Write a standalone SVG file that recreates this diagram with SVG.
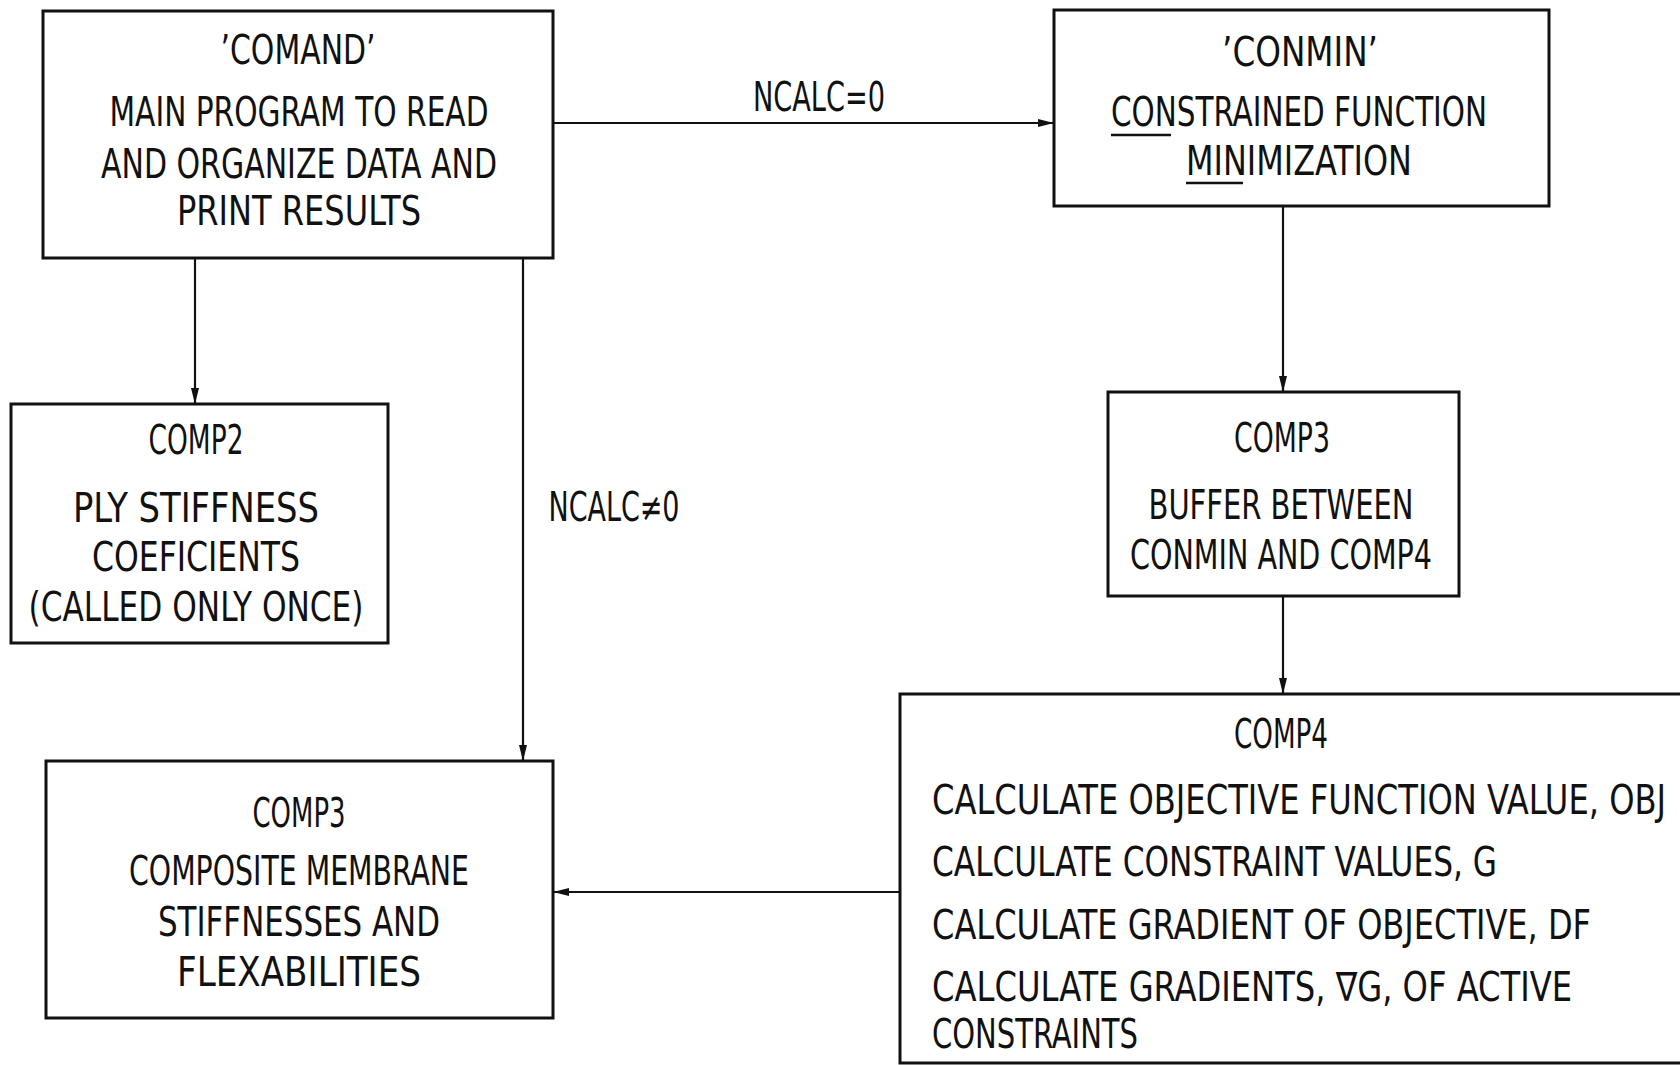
<svg xmlns="http://www.w3.org/2000/svg" width="1680" height="1065" viewBox="0 0 1680 1065">
<defs>
<marker id="ah" viewBox="0 0 16 10" refX="16" refY="5" markerWidth="16" markerHeight="10" markerUnits="userSpaceOnUse" orient="auto">
<path d="M0,1 L16,5 L0,9 Z" fill="#111"/>
</marker>
</defs>
<style>
.box{fill:#fff;stroke:#111;stroke-width:3}
.t{font-family:"DejaVu Sans Condensed","DejaVu Sans","Liberation Sans",sans-serif;font-size:40px;fill:#111;font-stretch:condensed}
.c{text-anchor:middle}
.ln{stroke:#111;stroke-width:2.2;fill:none}
.ul{stroke:#111;stroke-width:2.5}
</style>
<rect width="1680" height="1065" fill="#fff"/>
<g id="connectors">
<line class="ln" x1="553" y1="123" x2="1054" y2="123" marker-end="url(#ah)"/>
<line class="ln" x1="195" y1="258" x2="195" y2="404" marker-end="url(#ah)"/>
<line class="ln" x1="523" y1="258" x2="523" y2="761" marker-end="url(#ah)"/>
<line class="ln" x1="1283" y1="206" x2="1283" y2="392" marker-end="url(#ah)"/>
<line class="ln" x1="1283" y1="596" x2="1283" y2="694" marker-end="url(#ah)"/>
<line class="ln" x1="900" y1="892" x2="553" y2="892" marker-end="url(#ah)"/>
<text class="t c" x="819" y="111" textLength="132" lengthAdjust="spacingAndGlyphs">NCALC=0</text>
<text class="t c" x="614" y="521" textLength="131" lengthAdjust="spacingAndGlyphs">NCALC≠0</text>
</g>
<g id="comand">
<rect class="box" x="43" y="11" width="510" height="247"/>
<text class="t c" x="298" y="64" textLength="155" lengthAdjust="spacingAndGlyphs">’COMAND’</text>
<text class="t c" x="299" y="126" textLength="379" lengthAdjust="spacingAndGlyphs">MAIN PROGRAM TO READ</text>
<text class="t c" x="299" y="178" textLength="396" lengthAdjust="spacingAndGlyphs">AND ORGANIZE DATA AND</text>
<text class="t c" x="299" y="225" textLength="244" lengthAdjust="spacingAndGlyphs">PRINT RESULTS</text>
</g>
<g id="conmin">
<rect class="box" x="1054" y="10" width="495" height="196"/>
<text class="t c" x="1300" y="66" textLength="156" lengthAdjust="spacingAndGlyphs">’CONMIN’</text>
<text class="t c" x="1299" y="126" textLength="376" lengthAdjust="spacingAndGlyphs">CONSTRAINED FUNCTION</text>
<text class="t c" x="1299" y="175" textLength="226" lengthAdjust="spacingAndGlyphs">MINIMIZATION</text>
<line class="ul" x1="1111" y1="135" x2="1171" y2="135"/>
<line class="ul" x1="1186" y1="183" x2="1243" y2="183"/>
</g>
<g id="comp2">
<rect class="box" x="11" y="404" width="377" height="239"/>
<text class="t c" x="196" y="454" textLength="95" lengthAdjust="spacingAndGlyphs">COMP2</text>
<text class="t c" x="196" y="522" textLength="246" lengthAdjust="spacingAndGlyphs">PLY STIFFNESS</text>
<text class="t c" x="196" y="571" textLength="208" lengthAdjust="spacingAndGlyphs">COEFICIENTS</text>
<text class="t c" x="196" y="621" textLength="335" lengthAdjust="spacingAndGlyphs">(CALLED ONLY ONCE)</text>
</g>
<g id="comp3-buffer">
<rect class="box" x="1108" y="392" width="351" height="204"/>
<text class="t c" x="1282" y="452" textLength="96" lengthAdjust="spacingAndGlyphs">COMP3</text>
<text class="t c" x="1281" y="519" textLength="265" lengthAdjust="spacingAndGlyphs">BUFFER BETWEEN</text>
<text class="t c" x="1281" y="569" textLength="302" lengthAdjust="spacingAndGlyphs">CONMIN AND COMP4</text>
</g>
<g id="comp4">
<path class="box" d="M1680,694 H900 V1063 H1680"/>
<text class="t c" x="1281" y="748" textLength="94" lengthAdjust="spacingAndGlyphs">COMP4</text>
<text class="t" x="932" y="814" textLength="734" lengthAdjust="spacingAndGlyphs">CALCULATE OBJECTIVE FUNCTION VALUE, OBJ</text>
<text class="t" x="932" y="876" textLength="565" lengthAdjust="spacingAndGlyphs">CALCULATE CONSTRAINT VALUES, G</text>
<text class="t" x="932" y="939" textLength="659" lengthAdjust="spacingAndGlyphs">CALCULATE GRADIENT OF OBJECTIVE, DF</text>
<text class="t" x="932" y="1001" textLength="640" lengthAdjust="spacingAndGlyphs">CALCULATE GRADIENTS, ∇G, OF ACTIVE</text>
<text class="t" x="932" y="1048" textLength="206" lengthAdjust="spacingAndGlyphs">CONSTRAINTS</text>
</g>
<g id="comp3-membrane">
<rect class="box" x="46" y="761" width="507" height="257"/>
<text class="t c" x="299" y="827" textLength="93" lengthAdjust="spacingAndGlyphs">COMP3</text>
<text class="t c" x="299" y="885" textLength="340" lengthAdjust="spacingAndGlyphs">COMPOSITE MEMBRANE</text>
<text class="t c" x="299" y="936" textLength="282" lengthAdjust="spacingAndGlyphs">STIFFNESSES AND</text>
<text class="t c" x="299" y="986" textLength="244" lengthAdjust="spacingAndGlyphs">FLEXABILITIES</text>
</g>
</svg>
